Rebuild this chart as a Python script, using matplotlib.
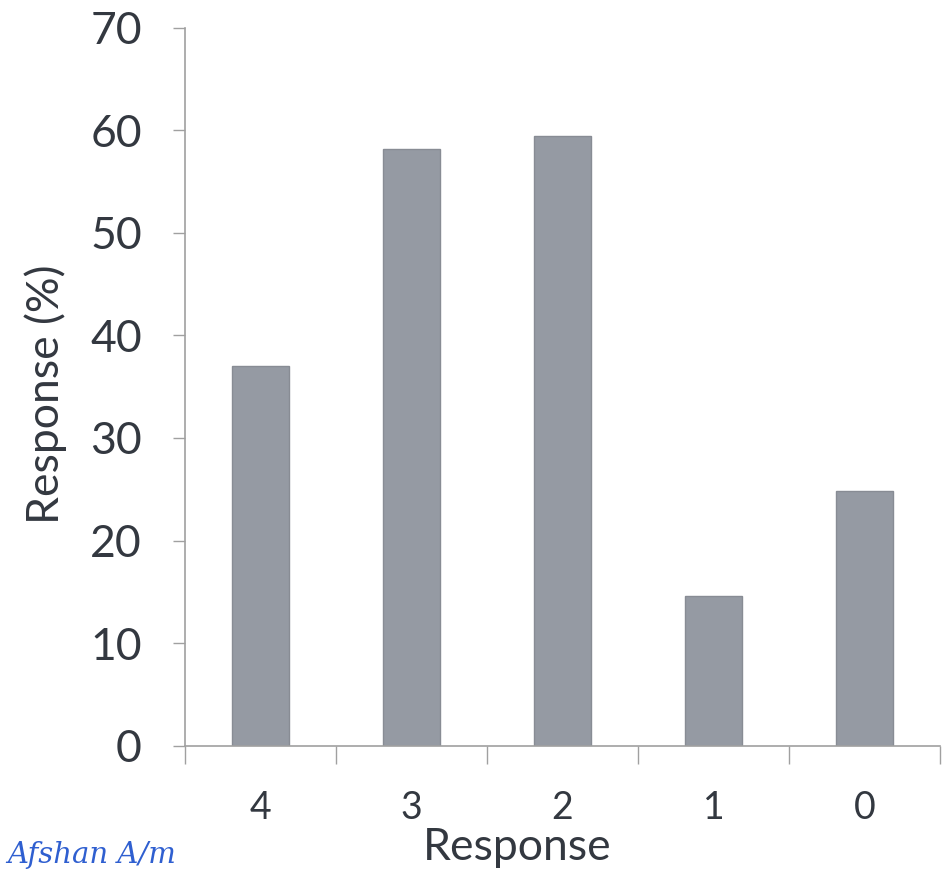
import matplotlib.pyplot as plt
import numpy as np

categories = ["4", "3", "2", "1", "0"]
values = [37.0, 58.2, 59.5, 14.6, 24.8]
yticks = [0, 10, 20, 30, 40, 50, 60, 70]

plt.rcParams['font.family'] = ['Lato', 'DejaVu Sans']
text_col = '#333840'
axis_col = '#a0a0a0'

fig = plt.figure(figsize=(9.44, 8.73), dpi=100)
ax = fig.add_axes([0.196, 0.146, 0.80, 0.822])

x = np.arange(len(categories))
ax.bar(x, values, width=0.38, color='#959aa3', edgecolor='#888c94', linewidth=1.0, zorder=2)

ax.set_xlim(-0.5, len(categories) - 0.5)
ax.set_ylim(0, 70)
ax.set_yticks(yticks)
ax.set_yticklabels([str(t) for t in yticks], fontsize=32, color=text_col)

# category labels centred, tick marks on the category boundaries
ax.set_xticks(x)
ax.set_xticklabels(categories, fontsize=27, color=text_col)
ax.tick_params(axis='x', length=0, pad=32)
ax.set_xticks(np.arange(-0.5, len(categories) + 0.5, 1), minor=True)
ax.tick_params(axis='x', which='minor', length=13, color=axis_col, width=1)
ax.tick_params(axis='y', length=9, color=axis_col, width=1, pad=22)

for side in ['top', 'right']:
    ax.spines[side].set_visible(False)
for side in ['left', 'bottom']:
    ax.spines[side].set_color(axis_col)
    ax.spines[side].set_linewidth(1.2)

ax.set_xlabel("Response", fontsize=32, color=text_col)
ax.xaxis.label.set_va('center')
ax.xaxis.set_label_coords(0.44, -0.142)
ax.set_ylabel("Response (%)", fontsize=32, color=text_col)
ax.yaxis.label.set_va('center')
ax.yaxis.set_label_coords(-0.185, 0.49)

# handwritten note in the corner
fig.text(0.008, 0.012, "Afshan A/m", fontsize=21, color='#2f5fd0', style='italic',
         family=['DejaVu Serif'])

fig.savefig("out.png", dpi=100)
